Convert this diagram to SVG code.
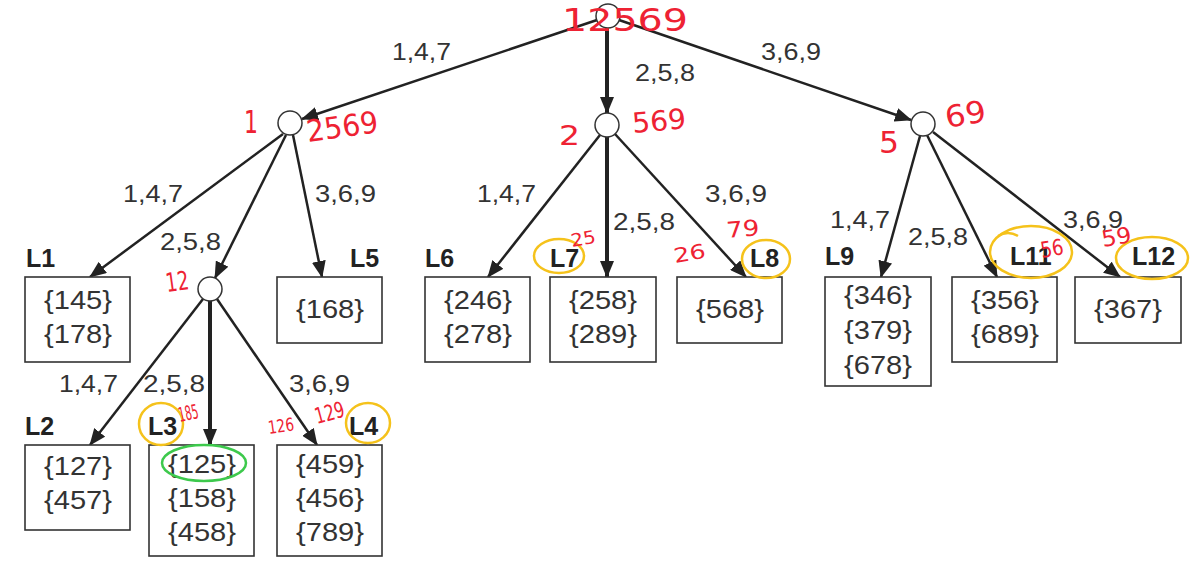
<svg xmlns="http://www.w3.org/2000/svg" width="1194" height="566" viewBox="0 0 1194 566">
<style>
.bg{fill:#ffffff}
.node{fill:#ffffff;stroke:#333333;stroke-width:1.5}
.box{fill:#ffffff;stroke:#333333;stroke-width:1.6}
.edge{stroke:#222222;stroke-width:2.5;fill:none}
.thick{stroke:#222222;stroke-width:4;fill:none}
.el{font-family:"Liberation Sans",Arial,sans-serif;font-size:24px;fill:#333333}
.bt{font-family:"Liberation Sans",Arial,sans-serif;font-size:25px;fill:#333333;text-anchor:middle}
.lab{font-family:"Liberation Sans",Arial,sans-serif;font-size:25px;font-weight:bold;fill:#222222}
.red{font-family:"DejaVu Sans",sans-serif;fill:#ee2233}
.yc{fill:none;stroke:#f5c21b;stroke-width:2.5}
.gc{fill:none;stroke:#3dc94c;stroke-width:2.5}
</style>
<defs>
<marker id="ah" markerUnits="userSpaceOnUse" markerWidth="17" markerHeight="14" refX="16" refY="7" orient="auto">
<path d="M0,0 L17,7 L0,14 Z" fill="#222222"/>
</marker>
</defs>
<rect class="bg" x="0" y="0" width="1194" height="566"/>

<g id="connectors">
<line class="edge" x1="597" y1="20" x2="302" y2="119" marker-end="url(#ah)"/>
<line class="thick" x1="607" y1="28" x2="607" y2="113" marker-end="url(#ah)"/>
<line class="edge" x1="619" y1="20" x2="911" y2="120" marker-end="url(#ah)"/>

<line class="edge" x1="283" y1="134" x2="90" y2="277" marker-end="url(#ah)"/>
<line class="edge" x1="286" y1="135" x2="215" y2="278" marker-end="url(#ah)"/>
<line class="edge" x1="293" y1="135" x2="322" y2="277" marker-end="url(#ah)"/>

<line class="edge" x1="203" y1="299" x2="90" y2="445" marker-end="url(#ah)"/>
<line class="thick" x1="210" y1="301" x2="210" y2="445" marker-end="url(#ah)"/>
<line class="edge" x1="217" y1="299" x2="317" y2="445" marker-end="url(#ah)"/>

<line class="edge" x1="600" y1="135" x2="488" y2="277" marker-end="url(#ah)"/>
<line class="thick" x1="607" y1="137" x2="607" y2="277" marker-end="url(#ah)"/>
<line class="edge" x1="615" y1="134" x2="746" y2="277" marker-end="url(#ah)"/>

<line class="edge" x1="920" y1="136" x2="881" y2="277" marker-end="url(#ah)"/>
<line class="edge" x1="927" y1="135" x2="997" y2="277" marker-end="url(#ah)"/>
<line class="edge" x1="933" y1="132" x2="1120" y2="277" marker-end="url(#ah)"/>

<text class="el" x="392" y="60" textLength="59" lengthAdjust="spacingAndGlyphs">1,4,7</text>
<text class="el" x="635" y="81" textLength="60" lengthAdjust="spacingAndGlyphs">2,5,8</text>
<text class="el" x="761" y="60" textLength="60" lengthAdjust="spacingAndGlyphs">3,6,9</text>

<text class="el" x="123" y="202" textLength="60" lengthAdjust="spacingAndGlyphs">1,4,7</text>
<text class="el" x="160" y="250" textLength="61" lengthAdjust="spacingAndGlyphs">2,5,8</text>
<text class="el" x="315" y="202" textLength="61" lengthAdjust="spacingAndGlyphs">3,6,9</text>

<text class="el" x="59" y="392" textLength="59" lengthAdjust="spacingAndGlyphs">1,4,7</text>
<text class="el" x="143" y="392" textLength="62" lengthAdjust="spacingAndGlyphs">2,5,8</text>
<text class="el" x="289" y="392" textLength="61" lengthAdjust="spacingAndGlyphs">3,6,9</text>

<text class="el" x="477" y="202" textLength="59" lengthAdjust="spacingAndGlyphs">1,4,7</text>
<text class="el" x="613" y="230" textLength="62" lengthAdjust="spacingAndGlyphs">2,5,8</text>
<text class="el" x="705" y="202" textLength="62" lengthAdjust="spacingAndGlyphs">3,6,9</text>

<text class="el" x="830" y="228" textLength="60" lengthAdjust="spacingAndGlyphs">1,4,7</text>
<text class="el" x="908" y="245" textLength="60" lengthAdjust="spacingAndGlyphs">2,5,8</text>
<text class="el" x="1063" y="228" textLength="60" lengthAdjust="spacingAndGlyphs">3,6,9</text>
</g>

<g id="root"><circle class="node" cx="608" cy="16" r="12"/></g>
<g id="n1"><circle class="node" cx="290" cy="123" r="12"/></g>
<g id="n2"><circle class="node" cx="607" cy="125" r="12"/></g>
<g id="n5"><circle class="node" cx="923" cy="124" r="12"/></g>
<g id="n12"><circle class="node" cx="210" cy="289" r="12"/></g>

<g id="L1">
<text class="lab" x="26" y="267">L1</text>
<rect class="box" x="25" y="277" width="105" height="85"/>
<text class="bt" x="78" y="309" textLength="68" lengthAdjust="spacingAndGlyphs">{145}</text>
<text class="bt" x="78" y="343" textLength="68" lengthAdjust="spacingAndGlyphs">{178}</text>
</g>
<g id="L5">
<text class="lab" x="350" y="267">L5</text>
<rect class="box" x="277" y="277" width="105" height="66"/>
<text class="bt" x="330" y="318" textLength="68" lengthAdjust="spacingAndGlyphs">{168}</text>
</g>
<g id="L2">
<text class="lab" x="25" y="435">L2</text>
<rect class="box" x="25" y="445" width="105" height="85"/>
<text class="bt" x="78" y="475" textLength="68" lengthAdjust="spacingAndGlyphs">{127}</text>
<text class="bt" x="78" y="509" textLength="68" lengthAdjust="spacingAndGlyphs">{457}</text>
</g>
<g id="L3">
<text class="lab" x="148" y="435">L3</text>
<rect class="box" x="149" y="445" width="105" height="111"/>
<text class="bt" x="202" y="473" textLength="68" lengthAdjust="spacingAndGlyphs">{125}</text>
<text class="bt" x="202" y="507" textLength="68" lengthAdjust="spacingAndGlyphs">{158}</text>
<text class="bt" x="202" y="541" textLength="68" lengthAdjust="spacingAndGlyphs">{458}</text>
</g>
<g id="L4">
<text class="lab" x="349" y="435">L4</text>
<rect class="box" x="277" y="445" width="105" height="111"/>
<text class="bt" x="330" y="473" textLength="68" lengthAdjust="spacingAndGlyphs">{459}</text>
<text class="bt" x="330" y="507" textLength="68" lengthAdjust="spacingAndGlyphs">{456}</text>
<text class="bt" x="330" y="541" textLength="68" lengthAdjust="spacingAndGlyphs">{789}</text>
</g>
<g id="L6">
<text class="lab" x="425" y="267">L6</text>
<rect class="box" x="425" y="277" width="105" height="85"/>
<text class="bt" x="478" y="309" textLength="68" lengthAdjust="spacingAndGlyphs">{246}</text>
<text class="bt" x="478" y="343" textLength="68" lengthAdjust="spacingAndGlyphs">{278}</text>
</g>
<g id="L7">
<text class="lab" x="550" y="267">L7</text>
<rect class="box" x="550" y="277" width="106" height="85"/>
<text class="bt" x="603" y="309" textLength="68" lengthAdjust="spacingAndGlyphs">{258}</text>
<text class="bt" x="603" y="343" textLength="68" lengthAdjust="spacingAndGlyphs">{289}</text>
</g>
<g id="L8">
<text class="lab" x="750" y="267">L8</text>
<rect class="box" x="677" y="277" width="105" height="66"/>
<text class="bt" x="730" y="318" textLength="68" lengthAdjust="spacingAndGlyphs">{568}</text>
</g>
<g id="L9">
<text class="lab" x="825" y="265">L9</text>
<rect class="box" x="825" y="277" width="106" height="109"/>
<text class="bt" x="878" y="304" textLength="68" lengthAdjust="spacingAndGlyphs">{346}</text>
<text class="bt" x="878" y="339" textLength="68" lengthAdjust="spacingAndGlyphs">{379}</text>
<text class="bt" x="878" y="374" textLength="68" lengthAdjust="spacingAndGlyphs">{678}</text>
</g>
<g id="L11">
<text class="lab" x="1010" y="265">L11</text>
<rect class="box" x="952" y="277" width="105" height="85"/>
<text class="bt" x="1005" y="309" textLength="68" lengthAdjust="spacingAndGlyphs">{356}</text>
<text class="bt" x="1005" y="343" textLength="68" lengthAdjust="spacingAndGlyphs">{689}</text>
</g>
<g id="L12">
<text class="lab" x="1132" y="265">L12</text>
<rect class="box" x="1075" y="277" width="106" height="66"/>
<text class="bt" x="1128" y="318" textLength="68" lengthAdjust="spacingAndGlyphs">{367}</text>
</g>

<g id="annotations">
<ellipse class="yc" cx="161" cy="424" rx="22" ry="21"/>
<ellipse class="yc" cx="368" cy="423" rx="22" ry="20"/>
<ellipse class="yc" cx="559" cy="256" rx="25" ry="17"/>
<ellipse class="yc" cx="766" cy="259" rx="24" ry="19"/>
<ellipse class="yc" cx="1031" cy="252" rx="41" ry="26"/>
<path class="yc" d="M998,236 Q1008,230 1018,236"/>
<ellipse class="yc" cx="1152" cy="258" rx="36" ry="21"/>
<ellipse class="gc" cx="204" cy="463" rx="42" ry="18"/>

<text class="red" x="562" y="31" font-size="32" textLength="126" lengthAdjust="spacingAndGlyphs">12569</text>
<text class="red" x="244" y="133" font-size="32" textLength="14" lengthAdjust="spacingAndGlyphs">1</text>
<text class="red" x="308" y="142" font-size="30" textLength="72" lengthAdjust="spacingAndGlyphs" transform="rotate(-8 308 142)">2569</text>
<text class="red" x="559" y="145" font-size="26" textLength="21" lengthAdjust="spacingAndGlyphs">2</text>
<text class="red" x="633" y="133" font-size="28" textLength="54" lengthAdjust="spacingAndGlyphs" transform="rotate(-5 633 133)">569</text>
<text class="red" x="879" y="153" font-size="30" textLength="20" lengthAdjust="spacingAndGlyphs">5</text>
<text class="red" x="947" y="128" font-size="30" textLength="41" lengthAdjust="spacingAndGlyphs" transform="rotate(-10 947 128)">69</text>
<text class="red" x="167" y="292" font-size="26" textLength="23" lengthAdjust="spacingAndGlyphs" transform="rotate(-8 167 292)">12</text>
<text class="red" x="180" y="422" font-size="20" textLength="20" lengthAdjust="spacingAndGlyphs" transform="rotate(-12 180 422)">185</text>
<text class="red" x="269" y="434" font-size="18" textLength="26" lengthAdjust="spacingAndGlyphs" transform="rotate(-8 269 434)">126</text>
<text class="red" x="317" y="424" font-size="22" textLength="30" lengthAdjust="spacingAndGlyphs" transform="rotate(-15 317 424)">129</text>
<text class="red" x="572" y="247" font-size="18" textLength="25" lengthAdjust="spacingAndGlyphs" transform="rotate(-10 572 247)">25</text>
<text class="red" x="675" y="263" font-size="20" textLength="32" lengthAdjust="spacingAndGlyphs" transform="rotate(-10 675 263)">26</text>
<text class="red" x="727" y="238" font-size="22" textLength="33" lengthAdjust="spacingAndGlyphs" transform="rotate(-5 727 238)">79</text>
<text class="red" x="1042" y="258" font-size="22" textLength="23" lengthAdjust="spacingAndGlyphs" transform="rotate(-10 1042 258)">56</text>
<text class="red" x="1103" y="247" font-size="22" textLength="30" lengthAdjust="spacingAndGlyphs" transform="rotate(-10 1103 247)">59</text>
</g>
</svg>
